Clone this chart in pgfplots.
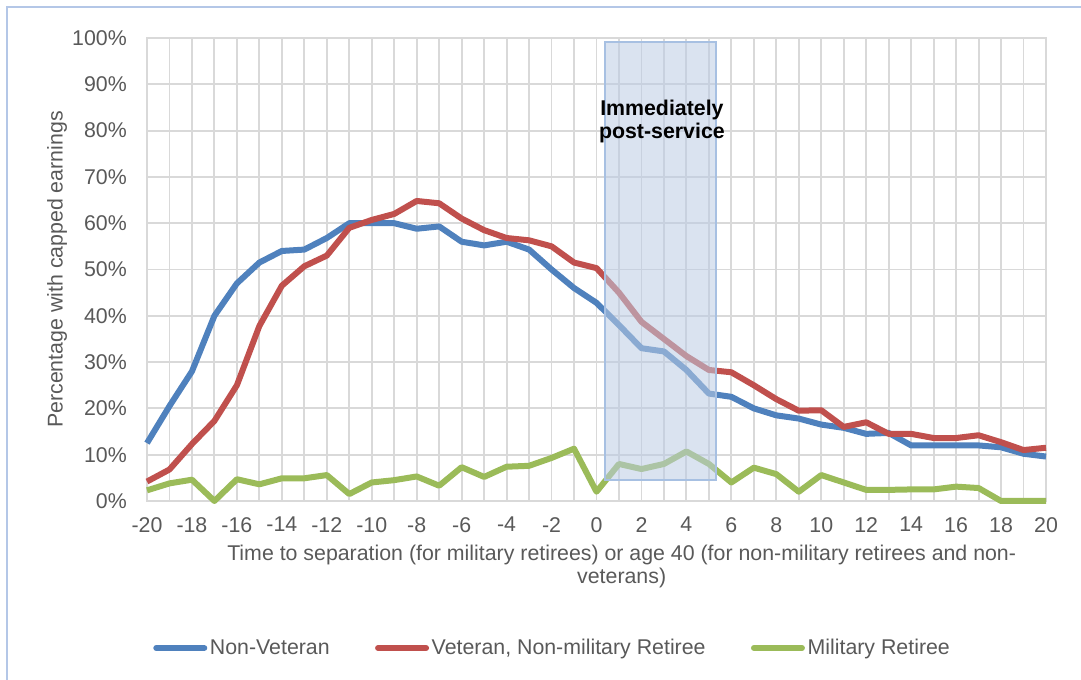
\documentclass[border=0pt]{standalone}
\usepackage{pgfplots}
\pgfplotsset{compat=1.18}
\usepackage{fontspec}
\setmainfont{Liberation Sans}
\definecolor{nonvet}{HTML}{4F81BD}
\definecolor{vetnon}{HTML}{C0504D}
\definecolor{milret}{HTML}{9BBB59}
\definecolor{gridc}{HTML}{D9D9D9}
\definecolor{txt}{HTML}{595959}
\definecolor{framec}{HTML}{B4C7E7}
\definecolor{boxfill}{HTML}{BBCCE4}
\definecolor{boxline}{HTML}{A7C0E2}

\pgfplotstableread{
x nonvet vetnon milret
-20 12.5 4.2 2.3
-19 20.5 6.8 3.8
-18 28.0 12.3 4.6
-17 40.0 17.3 0.0
-16 47.0 25.0 4.7
-15 51.5 37.8 3.6
-14 54.0 46.5 4.9
-13 54.3 50.7 4.9
-12 56.8 53.0 5.6
-11 60.0 59.0 1.5
-10 60.0 60.7 4.0
-9 60.0 62.0 4.5
-8 58.8 64.8 5.3
-7 59.3 64.3 3.3
-6 56.0 61.0 7.3
-5 55.2 58.5 5.2
-4 56.0 56.8 7.4
-3 54.3 56.3 7.6
-2 50.0 55.0 9.3
-1 46.0 51.5 11.3
0 42.8 50.3 2.0
1 38.0 45.0 8.0
2 33.0 38.7 6.9
3 32.3 35.0 8.0
4 28.3 31.3 10.7
5 23.2 28.3 8.0
6 22.5 27.8 4.0
7 20.0 25.0 7.2
8 18.5 22.0 5.8
9 17.8 19.5 2.0
10 16.5 19.6 5.6
11 15.8 16.0 4.0
12 14.5 17.0 2.4
13 14.7 14.5 2.4
14 12.0 14.5 2.5
15 12.0 13.6 2.5
16 12.0 13.6 3.1
17 12.0 14.2 2.8
18 11.6 12.7 0.0
19 10.2 11.0 0.0
20 9.6 11.5 0.0
}\datatable

\begin{document}
\begin{tikzpicture}[font=\fontsize{16}{17.25}\selectfont]
\begin{axis}[
  at={(110.25pt,134.25pt)}, anchor=south west,
  scale only axis,
  width=674.25pt, height=347.25pt,
  xmin=-20, xmax=20, ymin=0, ymax=100,
  xtick={-20,-18,...,20},
  xticklabels={-20,-18,-16,-14,-12,-10,-8,-6,-4,-2,0,2,4,6,8,10,12,14,16,18,20},
  minor xtick={-19,-17,...,19},
  ytick={0,10,...,100},
  yticklabel={\pgfmathprintnumber{\tick}\%},
  /pgf/number format/assume math mode=true,
  grid=both,
  major grid style={draw=gridc, line width=1.4pt},
  minor grid style={draw=gridc, line width=1.4pt},
  axis line style={draw=gridc, line width=1.4pt},
  major tick length=0pt, minor tick length=0pt,
  tick label style={text=txt},
  yticklabel style={anchor=east, inner sep=0pt, xshift=-15pt},
  xticklabel style={anchor=north, inner sep=0pt, yshift=-12pt},
  xlabel={Time to separation (for military retirees) or age 40 (for non-military retirees and non-\\veterans)},
  xlabel style={at={(rel axis cs:0.528,-0.1415)}, anchor=center, align=center, text=txt, inner sep=0pt},
  ylabel={Percentage with capped earnings},
  ylabel style={at={(rel axis cs:-0.1,0.5)}, anchor=center, text=txt, inner sep=0pt},
  clip=false,
  legend columns=3,
  legend style={at={(rel axis cs:0.0067,-0.3175)}, anchor=west, draw=none, fill=none,
    inner sep=0pt, text=txt,
    /tikz/every even column/.append style={column sep=32pt},
    nodes={inner sep=2pt}},
  legend image code/.code={\draw[#1, line cap=round] (0pt,0pt) -- (36pt,0pt);},
  every axis plot/.append style={line width=4.5pt, line join=round},
]
\addplot[nonvet] table[x=x, y=nonvet] {\datatable};
\addlegendentry{Non-Veteran}
\addplot[vetnon] table[x=x, y=vetnon] {\datatable};
\addlegendentry{Veteran, Non-military Retiree}
\addplot[milret] table[x=x, y=milret] {\datatable};
\addlegendentry{Military Retiree}

\fill[boxfill, fill opacity=0.55] (axis cs:0.38,4.5) rectangle (axis cs:5.32,99.1);
\draw[boxline, line width=1pt] (axis cs:0.38,4.5) rectangle (axis cs:5.32,99.1);
\node[align=center, font=\fontsize{16}{17.25}\selectfont\bfseries, text=black]
  at (axis cs:2.91,81.9) {Immediately\\post-service};
\end{axis}
\draw[framec, line width=1.5pt] (5.25pt,0pt) -- (5.25pt,504.75pt) -- (812pt,504.75pt);
\pgfresetboundingbox
\useasboundingbox (0pt,0pt) rectangle (810.75pt,510pt);
\end{tikzpicture}
\end{document}
